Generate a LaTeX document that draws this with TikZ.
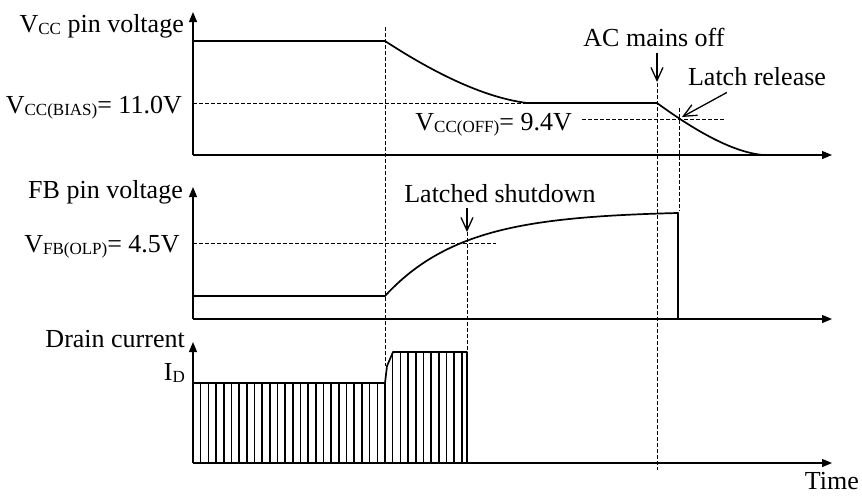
\documentclass[tikz,border=0pt]{standalone}
\usepackage{fontspec}
\setmainfont{Liberation Serif}
\usetikzlibrary{arrows.meta}
\newcommand{\lowsub}[1]{\raisebox{-2pt}{\fontsize{17}{17}\selectfont #1}}
\begin{document}
\begin{tikzpicture}[x=1pt,y=-1pt,
  lbl/.style={inner sep=0pt, font=\fontsize{26}{30}\selectfont},
  axis/.style={line width=1.2pt, -{Triangle[length=10pt,width=8pt]}},
  sig/.style={line width=1.7pt, line join=round},
  guide/.style={line width=0.8pt, dash pattern=on 3.5pt off 2.5pt},
  note/.style={line width=1.3pt, -{Straight Barb[length=13pt,width=12pt,line width=1.3pt]}},
  hatch/.style={line width=1.6pt}]
\useasboundingbox (0,0) rectangle (862,496);

% ---------- dashed guides ----------
\draw[guide] (385,27) -- (385,366);
\draw[guide] (193,103) -- (527,103);
\draw[guide] (582,119) -- (724,119);
\draw[guide] (657,83) -- (657,470);
\draw[guide] (679,108) -- (679,211);
\draw[guide] (193,243) -- (496,243);
\draw[guide] (467,232) -- (467,352);

% ---------- panel 1: VCC ----------
\draw[axis] (193,155) -- (193,12);
\draw[axis] (193,155) -- (832,155);
\draw[sig] (193,41) -- (385,41) .. controls (428,69) and (480,97) .. (527,103)
  -- (657,103) .. controls (690,127) and (730,152) .. (763,155) -- (822,155);

% ---------- panel 2: FB ----------
\draw[axis] (193,319) -- (193,187);
\draw[axis] (193,319) -- (832,319);
\draw[sig] (193,296) -- (385,296)
  -- plot[domain=385:678, samples=80] (\x,{211+85*exp(-(\x-385)/78)})
  -- (678,319) -- (822,319);

% ---------- panel 3: drain current ----------
\draw[axis] (193,463) -- (193,342);
\draw[axis] (193,463) -- (832,463);
\foreach \i in {0,...,35} {
  \pgfmathsetmacro\xh{193+7.68*\i}
  \pgfmathsetmacro\ytopv{\i<26 ? 383 : 352}
  \draw[hatch] (\xh,463) -- (\xh,\ytopv);
}
\draw[sig] (193,383) -- (385,383) -- (387,366) -- (393,352) -- (467,352)
  -- (467,463) -- (822,463);

% ---------- labels ----------
\node[lbl, anchor=base east] (vcclbl) at (184,32) {V\lowsub{CC} pin voltage};
\node[lbl, anchor=base east] (vbias) at (182,113) {V\lowsub{CC(BIAS)}= 11.0V};
\node[lbl, anchor=base east] (voff) at (572,130) {V\lowsub{CC(OFF)}= 9.4V};
\node[lbl, anchor=base east] (fblbl) at (183,198) {FB pin voltage};
\node[lbl, anchor=base east] (vfb) at (180,252) {V\lowsub{FB(OLP)}= 4.5V};
\node[lbl, anchor=base east] (dlbl) at (185,347) {Drain current};
\node[lbl, anchor=base east] (idlbl) at (185,380) {I\lowsub{D}};
\node[lbl, anchor=base east] (time) at (859,489) {Time};

% ---------- annotations ----------
\node[lbl, anchor=base] (acoff) at (654,46) {AC mains off};
\coordinate (acoffTip) at (657,82);
\draw[note, shorten <=7pt] (acoff.south -| acoffTip) -- (acoffTip);

\node[lbl, anchor=base] (latch) at (757,85) {Latch release};
\coordinate (latchTip) at (682,117);
\draw[note] ([shift={(39,7)}]latch.south west) -- (latchTip);

\node[lbl, anchor=base] (lshut) at (500,202) {Latched shutdown};
\coordinate (lshutTip) at (467,232);
\draw[note, shorten <=6pt] (lshut.south -| lshutTip) -- (lshutTip);
\end{tikzpicture}
\end{document}
